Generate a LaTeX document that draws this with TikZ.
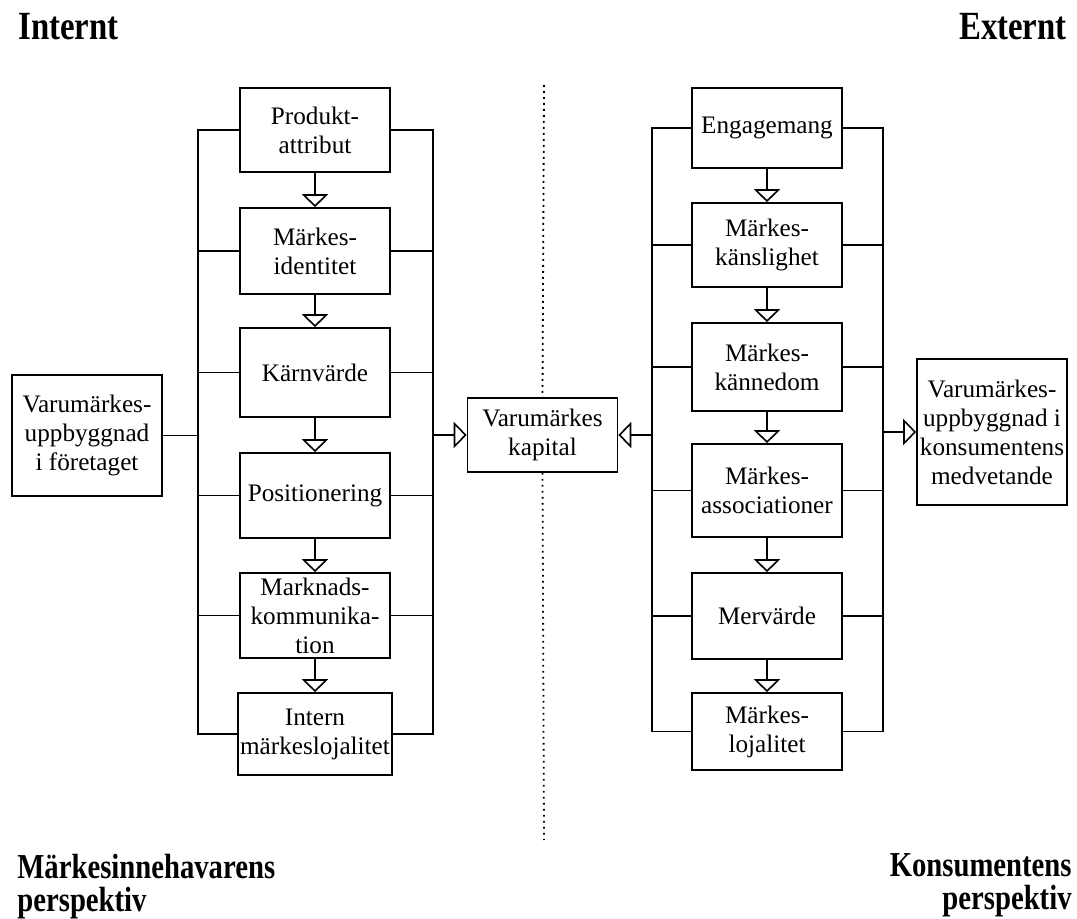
\documentclass[tikz,border=0pt]{standalone}
\usepackage{fontspec}
\setmainfont{Liberation Serif}
\newfontfamily\headfont{Liberation Serif}[FakeStretch=0.82]
\usepackage{tikz}
\usetikzlibrary{arrows.meta,positioning}

\tikzset{
  box/.style={draw, line width=0.8pt, minimum width=75pt, inner sep=1pt,
    align=center, font=\fontsize{12.6}{14.5}\selectfont},
  headtext/.style={inner sep=0pt, font=\headfont\bfseries\fontsize{20}{20}\selectfont},
  foottext/.style={inner sep=0pt, font=\headfont\bfseries\fontsize{17.5}{16.5}\selectfont},
  bus/.style={line width=0.8pt},
  divider/.style={line width=0.9pt, dash pattern=on 0.9pt off 2.1pt}
}

\begin{document}
\begin{tikzpicture}[x=0.5pt, y=-0.5pt, >={Triangle[open, width=13pt, length=6.5pt]}]
\useasboundingbox (0,0) rectangle (1077,919);

% headings
\node[headtext, anchor=base west] (internt) at (18,40) {Internt};
\node[headtext, anchor=base east] (externt) at (1067,40) {Externt};
\node[foottext, anchor=base west, align=left] (agare) at (17,911) {Märkesinnehavarens\\perspektiv};
\node[foottext, anchor=base east, align=right] (konsument) at (1072,909) {Konsumentens\\perspektiv};

% bus lines
\coordinate (LL) at (198,0);
\coordinate (LR) at (433,0);
\coordinate (RL) at (652,0);
\coordinate (RR) at (883,0);

% internal nodes
\node[box, minimum height=42pt] (I1) at (315,130) {Produkt-\\attribut};
\node[box, minimum height=43pt] (I2) at (315,251) {Märkes-\\identitet};
\node[box, minimum height=44.5pt] (I3) at (315,372.5) {Kärnvärde};
\node[box, minimum height=42.5pt] (I4) at (315,495.5) {Positionering};
\node[box, minimum height=42.5pt] (I5) at (315,615.5) {Marknads-\\kommunika-\\tion};
\node[box, minimum height=41pt] (I6) at (315,734) {Intern\\märkeslojalitet};
\node[box, minimum height=60.5pt] (foretaget) at (87,435.5) {Varumärkes-\\uppbyggnad\\i företaget};

% external nodes
\node[box, minimum height=40pt] (E1) at (767,128) {Engagemang};
\node[box, minimum height=42pt] (E2) at (767,245) {Märkes-\\känslighet};
\node[box, minimum height=44pt] (E3) at (767,367) {Märkes-\\kännedom};
\node[box, minimum height=46.5pt] (E4) at (767,490.5) {Märkes-\\associationer};
\node[box, minimum height=43pt] (E5) at (767,616) {Mervärde};
\node[box, minimum height=38.5pt] (E6) at (767,731.5) {Märkes-\\lojalitet};
\node[box, minimum height=73pt] (medvetande) at (992,432) {Varumärkes-\\uppbyggnad i\\konsumentens\\medvetande};

% centre
\node[box, minimum height=37pt] (kapital) at (542.5,435) {Varumärkes\\kapital};
\draw[divider] (544,85) -- (kapital.north);
\draw[divider] (kapital.south) -- (544,840);

% arrows down the columns
\draw[->, bus] (I1) -- (I2);
\draw[->, bus] (I2) -- (I3);
\draw[->, bus] (I3) -- (I4);
\draw[->, bus] (I4) -- (I5);
\draw[->, bus] (I5) -- (I6);
\draw[->, bus] (E1) -- (E2);
\draw[->, bus] (E2) -- (E3);
\draw[->, bus] (E3) -- (E4);
\draw[->, bus] (E4) -- (E5);
\draw[->, bus] (E5) -- (E6);

% left frame
\draw[bus] (I1.west) -| (I6.west -| LL) -- (I6.west);
\draw[bus] (I1.east) -| (I6.east -| LR) -- (I6.east);
\draw[bus] (I2.west) -- (I2.west -| LL);
\draw[bus] (I3.west) -- (I3.west -| LL);
\draw[bus] (I4.west) -- (I4.west -| LL);
\draw[bus] (I5.west) -- (I5.west -| LL);
\draw[bus] (I2.east) -- (I2.east -| LR);
\draw[bus] (I3.east) -- (I3.east -| LR);
\draw[bus] (I4.east) -- (I4.east -| LR);
\draw[bus] (I5.east) -- (I5.east -| LR);
\draw[bus] (foretaget.east) -- (foretaget.east -| LL);

% right frame
\draw[bus] (E1.west) -| (E6.west -| RL) -- (E6.west);
\draw[bus] (E1.east) -| (E6.east -| RR) -- (E6.east);
\draw[bus] (E2.west) -- (E2.west -| RL);
\draw[bus] (E3.west) -- (E3.west -| RL);
\draw[bus] (E4.west) -- (E4.west -| RL);
\draw[bus] (E5.west) -- (E5.west -| RL);
\draw[bus] (E2.east) -- (E2.east -| RR);
\draw[bus] (E3.east) -- (E3.east -| RR);
\draw[bus] (E4.east) -- (E4.east -| RR);
\draw[bus] (E5.east) -- (E5.east -| RR);

% arrows into kapital and out
\draw[->, bus] (kapital.west -| LR) -- (kapital.west);
\draw[->, bus] (kapital.east -| RL) -- (kapital.east);
\draw[->, bus] (medvetande.west -| RR) -- (medvetande.west);
\end{tikzpicture}
\end{document}
